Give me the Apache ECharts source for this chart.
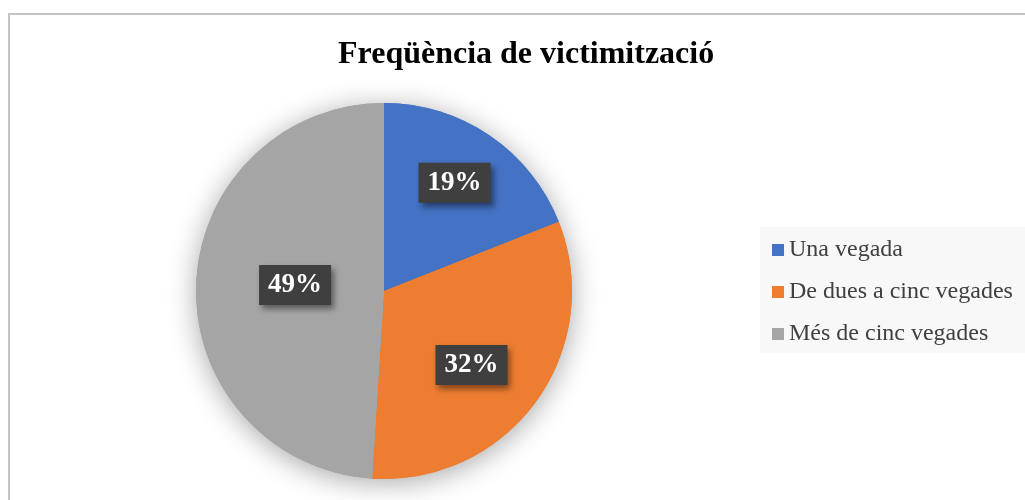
<!DOCTYPE html>
<html>
<head>
<meta charset="utf-8">
<script src="https://cdn.jsdelivr.net/npm/echarts@6/dist/echarts.min.js"></script>
<style>
  html, body { margin: 0; padding: 0; background: #fff; overflow: hidden; }
  #frame {
    position: absolute; left: 8px; top: 13px;
    width: 1100px; height: 600px;
    border: 2px solid #c4c4c4; box-sizing: border-box;
  }
  #chart { position: absolute; left: 0; top: 0; width: 1025px; height: 500px; }
</style>
</head>
<body>
<div id="frame"></div>
<div id="chart"></div>
<script>
  // dades
  const categories = ["Una vegada", "De dues a cinc vegades", "Més de cinc vegades"];
  const percents = [19, 32, 49];
  const colors = ["#4472C4", "#ED7D31", "#A5A5A5"];
  // desplaçament de les etiquetes respecte de la posició 'inside'
  const labelOffsets = [[16, -28], [9, 17], [8, -3]];

  let myChart = echarts.init(document.getElementById("chart"));

  let pieData = categories.map((name, i) => ({
    name: name,
    value: percents[i],
    itemStyle: { color: colors[i] },
    label: { offset: labelOffsets[i] }
  }));

  let option = {
    animation: false,
    title: {
      text: "Freqüència de victimització",
      left: 338,
      top: 39,
      padding: 0,
      textStyle: {
        fontFamily: "Liberation Serif",
        fontWeight: "bold",
        fontSize: 32,
        color: "#000"
      }
    },
    legend: {
      data: categories,
      orient: "vertical",
      left: 760,
      top: 227,
      icon: "rect",
      itemWidth: 12,
      itemHeight: 12,
      itemGap: 18,
      padding: [11, 30, 7, 12],
      backgroundColor: "#f8f8f8",
      textStyle: {
        fontFamily: "Liberation Serif",
        fontSize: 24,
        lineHeight: 24,
        color: "#404040"
      }
    },
    series: [
      {
        // ombra del pastís
        type: "pie",
        silent: true,
        center: [384, 291],
        radius: 188,
        label: { show: false },
        labelLine: { show: false },
        itemStyle: {
          shadowBlur: 28,
          shadowOffsetY: 4,
          shadowColor: "rgba(0,0,0,0.35)"
        },
        data: categories.map((name, i) => ({
          name: name,
          value: percents[i],
          itemStyle: { color: colors[i] }
        }))
      },
      {
        name: "Freqüència",
        type: "pie",
        center: [384, 291],
        radius: 188,
        startAngle: 90,
        clockwise: true,
        itemStyle: { borderWidth: 0 },
        emphasis: { scale: false },
        labelLine: { show: false },
        label: {
          show: true,
          position: "inside",
          formatter: "{c}%",
          fontFamily: "Liberation Serif",
          fontWeight: "bold",
          fontSize: 27,
          lineHeight: 30,
          color: "#fff",
          backgroundColor: "#3f3f3f",
          padding: [5, 9],
          shadowBlur: 6,
          shadowOffsetX: 3,
          shadowOffsetY: 4,
          shadowColor: "rgba(0,0,0,0.45)"
        },
        data: pieData
      }
    ]
  };

  myChart.setOption(option);
  window.addEventListener("resize", () => {
    myChart.resize();
  });
</script>
</body>
</html>
